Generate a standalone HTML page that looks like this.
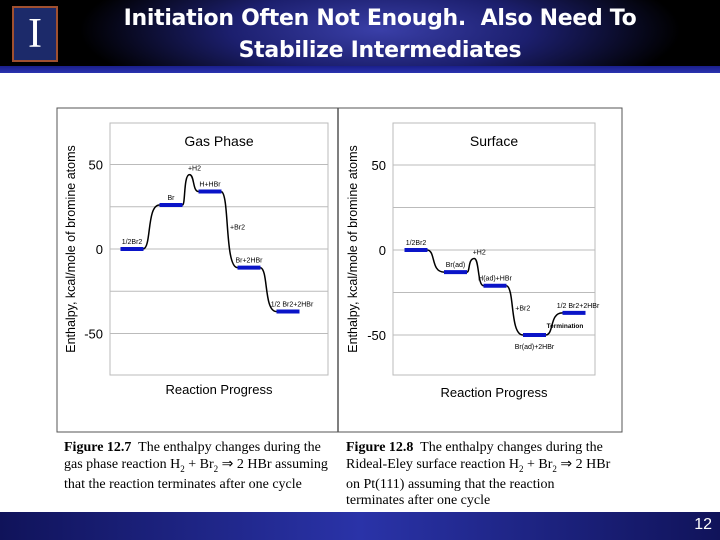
<!DOCTYPE html>
<html><head><meta charset="utf-8"><style>
body{margin:0;width:720px;height:540px;overflow:hidden;background:#fff;font-family:"Liberation Sans",sans-serif;position:relative}
#hdr{position:absolute;left:0;top:0;width:720px;height:66px;background:radial-gradient(ellipse 300px 80px at 380px 30px,#3a3fa8 0%,#1c1f6e 50%,#000 100%)}
#hline{position:absolute;left:0;top:66px;width:720px;height:7px;background:linear-gradient(#1a1f8a,#2a34b0)}
#title{position:absolute;left:60px;width:640px;top:3px;text-align:center;color:#fff;font-family:"DejaVu Sans",sans-serif;font-weight:bold;font-size:22px;line-height:32px;letter-spacing:-0.3px}
#logo{position:absolute;left:12px;top:6px;width:42px;height:52px;background:#1c2a6a;border:2px solid #a05030;color:#fff;font-family:"Liberation Serif",serif;font-size:42px;text-align:center;line-height:52px}
#foot{position:absolute;left:0;top:512px;width:720px;height:28px;background:linear-gradient(90deg,#10135a,#2a33a8 50%,#10135a)}
#pg{position:absolute;right:8px;top:516px;color:#fff;font-size:16px}
.cap{position:absolute;font-family:"Liberation Serif",serif;font-size:14px;line-height:16.5px;color:#000;white-space:nowrap}
</style></head><body>
<div id="hdr"></div>
<div id="hline"></div>
<div id="logo">I</div>
<div id="title">Initiation Often Not Enough.&nbsp; Also Need To<br>Stabilize Intermediates</div>
<svg id="ch" width="720" height="540" style="position:absolute;left:0;top:0"></svg>
<div class="cap" style="left:64px;top:440px"><b>Figure 12.7</b>&nbsp; The enthalpy changes during the<br>gas phase reaction H<sub style="font-size:9px">2</sub> + Br<sub style="font-size:9px">2</sub> ⇒ 2 HBr assuming<br>that the reaction terminates after one cycle</div>
<div class="cap" style="left:346px;top:440px"><b>Figure 12.8</b>&nbsp; The enthalpy changes during the<br>Rideal-Eley surface reaction H<sub style="font-size:9px">2</sub> + Br<sub style="font-size:9px">2</sub> ⇒ 2 HBr<br>on Pt(111) assuming that the reaction<br>terminates after one cycle</div>
<div id="foot"></div>
<div id="pg">12</div>
<script>
const yTicks=[50,0,-50];
const gasLabels=["1/2Br2","Br","H+HBr","Br+2HBr","1/2 Br2+2HBr"];
const gasValues=[0,26,34,-11,-37];
const gasPeak=44;
const surfLabels=["1/2Br2","Br(ad)","H(ad)+HBr","Br(ad)+2HBr","1/2 Br2+2HBr"];
const surfValues=[0,-13,-21,-50,-37];
const surfPeak=-5;
const NS="http://www.w3.org/2000/svg";
const svg=document.getElementById('ch');
function mk(t,a,p){const e=document.createElementNS(NS,t);for(const k in a)e.setAttribute(k,a[k]);(p||svg).appendChild(e);return e;}
mk('rect',{x:57,y:108,width:565,height:324,fill:'none',stroke:'#555','stroke-width':1});
mk('line',{x1:338,y1:108,x2:338,y2:432,stroke:'#555','stroke-width':1.5});
function chart(o){
  const g=mk('g',{});
  
  
  const yS=v=>o.y0-v*o.k, xS=i=>o.x1+i*o.dx;
  mk('rect',{x:o.px0,y:123,width:o.px1-o.px0,height:252,fill:'#fff',stroke:'#bbb'},g);
  [-25,25].concat(yTicks).forEach(t=>{const l=mk('line',{x1:o.px0,x2:o.px1,y1:yS(t),y2:yS(t),stroke:'#bbb'},g);});
  yTicks.forEach(t=>{const e=mk('text',{x:o.px0-7,y:yS(t)+5,'text-anchor':'end','font-size':13},g);e.textContent=t;});
  let tt=mk('text',{x:(o.px0+o.px1)/2,y:146,'text-anchor':'middle','font-size':14},g);tt.textContent=o.title;
  
  let xt=mk('text',{x:(o.px0+o.px1)/2,y:o.xty,'text-anchor':'middle','font-size':13},g);xt.textContent='Reaction Progress';
  
  let ya=mk('text',{transform:`translate(${o.yax},249) rotate(-90)`,'text-anchor':'middle','font-size':12.5},g);ya.textContent='Enthalpy, kcal/mole of bromine atoms';
  
  const hw=11.5;
  let d='';
  o.vals.forEach((v,i)=>{
    if(i>0){const xa=xS(i-1)+hw,ya0=yS(o.vals[i-1]),xb=xS(i)-hw,yb=yS(v);
      if(i===2){const xp=(xa+xb)/2-1,yp=yS(o.peak);
        d+=`M${xa},${ya0} C${xa+3},${ya0} ${xa+1},${yp} ${xp},${yp} C${xp+5},${yp} ${xb-6},${yb} ${xb},${yb}`;}
      else{const m=(xb-xa);d+=`M${xa},${ya0} C${xa+m*0.5},${ya0+(yb-ya0)*0.05} ${xa+m*0.2},${yb} ${xb},${yb}`;}}
  });
  const c=mk('path',{d:d,fill:'none',stroke:'#000','stroke-width':1.5},g);
  
  o.vals.forEach((v,i)=>{
    const r=mk('line',{x1:xS(i)-hw,x2:xS(i)+hw,y1:yS(v),y2:yS(v),stroke:'#0a14c8','stroke-width':4},g);
    
    const lb=mk('text',{x:xS(i)+(i===4?4:0),y:yS(v)+(o.below&&o.below[i]?14:-5),'text-anchor':'middle','font-size':7},g);
    lb.textContent=o.labels[i];
  });
  const pl=mk('text',{x:xS(1.5)+4,y:yS(o.peak)-4,'text-anchor':'middle','font-size':7},g);pl.textContent='+H2';
  
  const bl=mk('text',{x:xS(2.5)+8,y:yS((o.vals[2]+o.vals[3])/2),'text-anchor':'middle','font-size':7},g);bl.textContent='+Br2';
  
  return {g,xS,yS};
}
chart({name:'gas-phase-chart',title:'Gas Phase',px0:110,px1:328,y0:249,k:1.69,x1:132,dx:39,vals:gasValues,labels:gasLabels,peak:gasPeak,xty:394,yax:75});
const s=chart({name:'surface-chart',title:'Surface',px0:393,px1:595,y0:250,k:1.7,x1:416,dx:39.5,vals:surfValues,labels:surfLabels,peak:surfPeak,xty:397,yax:357,below:[0,0,0,1,0]});
const tm=mk('text',{x:565,y:s.yS(-46),'text-anchor':'middle','font-size':6.5,'font-weight':'bold'});tm.textContent='Termination';

</script>
</body></html>
